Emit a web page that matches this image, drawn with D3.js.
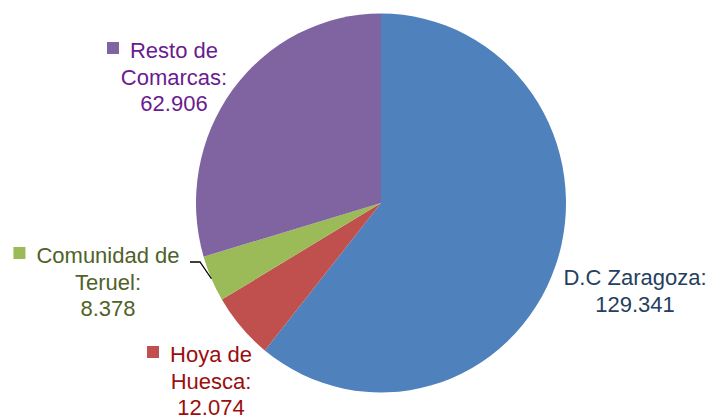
<!DOCTYPE html>
<html>
<head>
<meta charset="utf-8">
<script src="https://cdn.jsdelivr.net/npm/d3@7"></script>
<style>
  body { margin: 0; background: #fff; }
  svg text { font-family: "Liberation Sans", Arial, sans-serif; font-size: 22px; }
</style>
</head>
<body>
<div id="chart"></div>
<script>
// data
const categories = ["D.C Zaragoza", "Hoya de Huesca", "Comunidad de Teruel", "Resto de Comarcas"];
const values = [129.341, 12.074, 8.378, 62.906];
const valueLabels = ["129.341", "12.074", "8.378", "62.906"];
const labelLines = [["D.C Zaragoza:"], ["Hoya de", "Huesca:"], ["Comunidad de", "Teruel:"], ["Resto de", "Comarcas:"]];

// styles / layout
const sliceColors = ["#4F81BD", "#C0504D", "#9BBB59", "#8064A2"];
const textColors = ["#243F60", "#9A0E0E", "#4F6228", "#6A1B8F"];
const showKey = [false, true, true, true];
const labelPos = [
    {cx: 635, y: 285},
    {cx: 211, y: 362},
    {cx: 108, y: 263},
    {cx: 174, y: 58}
];

const width = 710, height = 416;
const cx = 381, cy = 203, rx = 185, ry = 189.5;
const lineHeight = 26.5;

const svg = d3.select("#chart")
    .append("svg")
    .attr("width", width)
    .attr("height", height);

const rows = categories.map((c, i) => ({name: c, value: values[i], i: i}));

const pie = d3.pie()
    .sort(null)
    .value(d => d.value);

const arc = d3.arc()
    .innerRadius(0)
    .outerRadius(rx);

svg.append("g")
    .attr("transform", "translate(" + cx + "," + cy + ") scale(1," + (ry / rx) + ")")
    .selectAll("path")
    .data(pie(rows))
    .enter()
    .append("path")
    .attr("d", arc)
    .attr("fill", d => sliceColors[d.data.i]);

// leader line for Comunidad de Teruel, ends on the slice edge
const teruel = pie(rows)[2];
const midA = (teruel.startAngle + teruel.endAngle) / 2;
const tipX = cx + Math.sin(midA) * rx;
const tipY = cy - Math.cos(midA) * ry;
svg.append("path")
    .attr("d", "M190,262L200,262L" + tipX + "," + tipY)
    .attr("fill", "none")
    .attr("stroke", "#000")
    .attr("stroke-width", 1.3);

// labels
rows.forEach((d, i) => {
    const p = labelPos[i];
    const lines = labelLines[i].concat([valueLabels[i]]);
    const t = svg.append("text")
        .attr("text-anchor", "middle")
        .attr("fill", textColors[i]);
    lines.forEach((l, k) => {
        t.append("tspan")
            .attr("x", p.cx)
            .attr("y", p.y + k * lineHeight)
            .text(l);
    });
    if (showKey[i]) {
        const w = t.select("tspan").node().getComputedTextLength();
        svg.append("rect")
            .attr("x", p.cx - w / 2 - 11 - 12)
            .attr("y", p.y - 16)
            .attr("width", 12)
            .attr("height", 12)
            .attr("fill", sliceColors[i]);
    }
});
</script>
</body>
</html>
